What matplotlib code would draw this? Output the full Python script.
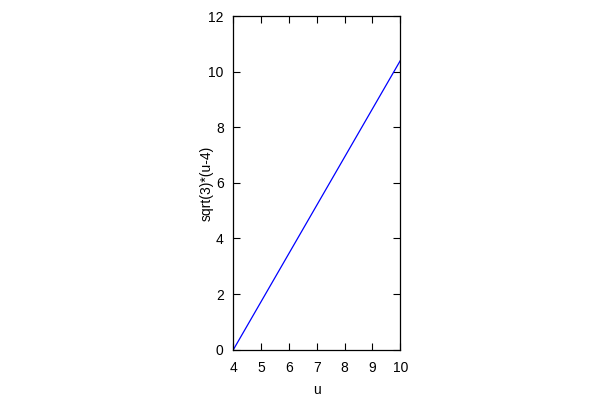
import matplotlib
matplotlib.use("Agg")
import matplotlib.pyplot as plt

# data
u_values = [4, 10]
v_values = [0, 10.39]
x_ticks = [4, 5, 6, 7, 8, 9, 10]
y_ticks = [0, 2, 4, 6, 8, 10, 12]

plt.rcParams["font.family"] = ["Liberation Sans", "DejaVu Sans"]
plt.rcParams["font.size"] = 10

fig = plt.figure(figsize=(6, 4), dpi=100)
ax = fig.add_axes([0.389, 0.126, 0.278, 0.834])

ax.plot(u_values, v_values, color="#0000ff", linewidth=0.9)

ax.set_xlim(4, 10)
ax.set_ylim(0, 12)
ax.set_xticks(x_ticks)
ax.set_yticks(y_ticks)
ax.tick_params(direction="in", top=True, right=True, length=5, width=0.8)
ax.tick_params(axis="x", pad=8)
ax.tick_params(axis="y", pad=7)
for spine in ax.spines.values():
    spine.set_linewidth(0.9)

# axis titles placed like gnuplot does
fig.text(317 / 600, 1 - 390 / 400, "u", ha="center", va="center")
fig.text(207 / 600, 1 - 183 / 400, "sqrt(3)*(u-4)", ha="center", va="center",
         rotation=90)

fig.savefig("out.png", dpi=100)
